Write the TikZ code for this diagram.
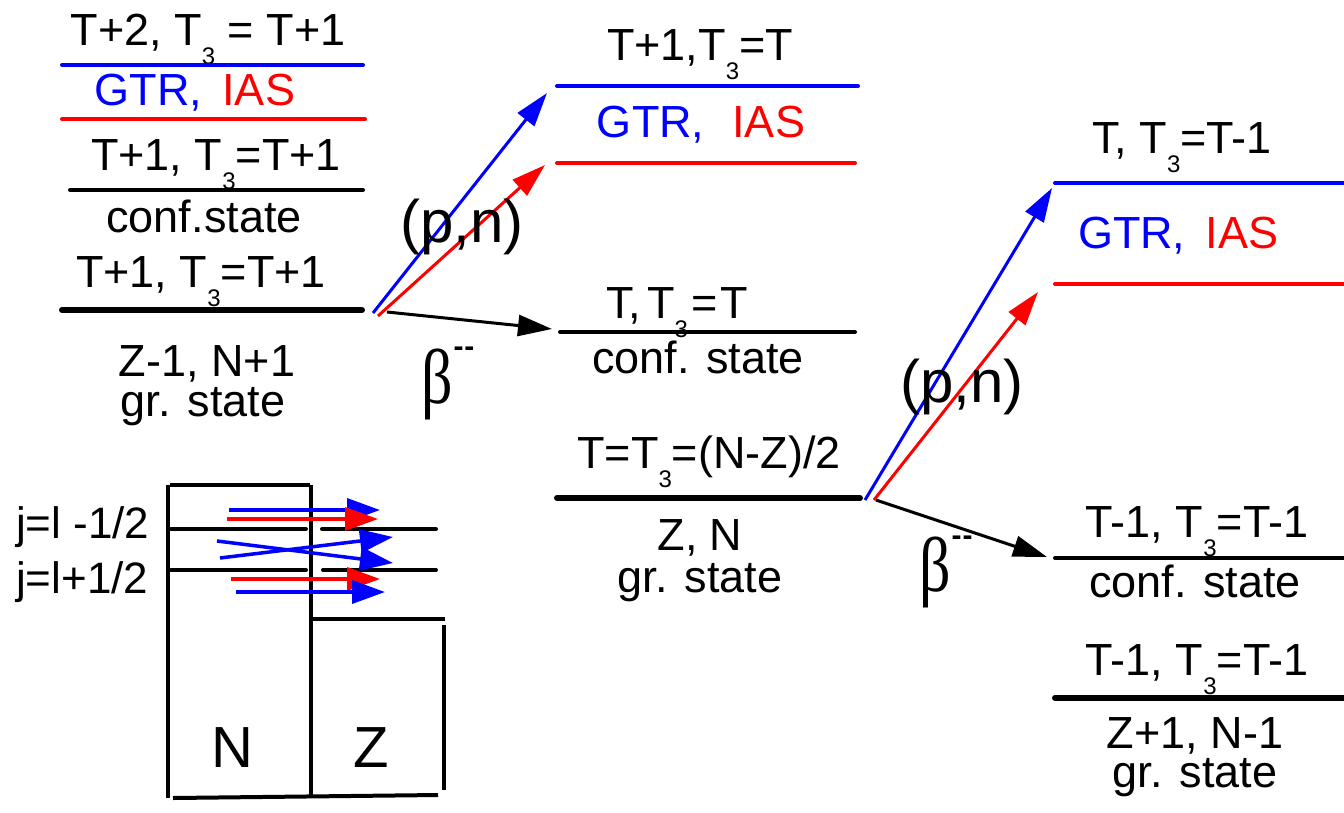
\documentclass[tikz,border=0pt]{standalone}
\usepackage{fontspec}
\setmainfont{Liberation Sans}
\newfontfamily\grkfont{Liberation Serif}
\usetikzlibrary{arrows.meta}
\newcommand\tsub[1]{\raisebox{-19pt}{\fontsize{24}{24}\selectfont #1}}
\begin{document}
\begin{tikzpicture}[x=1pt,y=-1pt,
  lbl/.style={anchor=base,inner sep=0pt,font=\fontsize{45}{54}\selectfont},
  jlbl/.style={anchor=base west,inner sep=0pt,font=\fontsize{44}{52}\selectfont},
  big/.style={anchor=base,inner sep=0pt,font=\fontsize{60}{70}\selectfont},
  nz/.style={anchor=base,inner sep=0pt,font=\fontsize{58}{68}\selectfont},
  beta/.style={inner sep=0pt,yscale=1.25,font=\grkfont\fontsize{62}{70}\selectfont},
  bsup/.style={inner sep=0pt,font=\bfseries\fontsize{30}{30}\selectfont},
  lvl/.style={line width=4pt,line cap=round},
  lvlthick/.style={line width=6pt,line cap=round},
  arr/.style={line width=3pt,-{Triangle[length=34pt,width=21pt]}},
  sarr/.style={line width=3.5pt,-{Triangle[length=33pt,width=23pt]}},
  boxline/.style={line width=4pt}
]
\useasboundingbox (0,0) rectangle (1344,812);

% ---------- left column ----------
\node[lbl] (l1) at (208,45) {T+2, T\tsub{3} = T+1};
\draw[lvl,blue] (62,65) -- (363,65);
\node[lbl] (l2) at (195,105) {{\color{blue}GTR,}\hspace{20pt}{\color{red}IAS}};
\draw[lvl,red] (62,119) -- (365,119);
\node[lbl] (l3) at (216,170) {T+1, T\tsub{3}=T+1};
\draw[lvl] (70,190) -- (363,190);
\node[lbl] (l4) at (204,232) {conf.state};
\node[lbl] (l5) at (201,287) {T+1, T\tsub{3}=T+1};
\draw[lvlthick] (62,310) -- (362,310);
\node[lbl] (l6) at (207,376) {Z-1, N+1};
\node[lbl] (l7) at (203,416) {gr. state};

% ---------- middle column ----------
\node[lbl] (m1) at (700,60) {T+1,T\tsub{3}=T};
\draw[lvl,blue] (557,86) -- (858,86);
\node[lbl] (m2) at (701,137) {{\color{blue}GTR,}\hspace{28pt}{\color{red}IAS}};
\draw[lvl,red] (557,163) -- (855,163);
\node[lbl] (m3) at (677,318) {T,\kern6pt T\tsub{3}\kern3pt=\kern3pt T};
\draw[lvl] (560,332) -- (855,332);
\node[lbl] (m4) at (698,373) {conf. state};
\node[lbl] (m5) at (709,468) {T=T\tsub{3}=(N-Z)/2};
\draw[lvlthick] (557,498) -- (860,498);
\node[lbl] (m6) at (700,550) {Z, N};
\node[lbl] (m7) at (700,592) {gr. state};

% ---------- right column ----------
\node[lbl] (r1) at (1182,153) {T, T\tsub{3}=T-1};
\draw[lvl,blue] (1055,183) -- (1352,183);
\node[lbl] (r2) at (1178,248) {{\color{blue}GTR,}\hspace{20pt}{\color{red}IAS}};
\draw[lvl,red] (1055,284) -- (1352,284);
\node[lbl] (r3) at (1197,537) {T-1, T\tsub{3}=T-1};
\draw[lvl] (1055,558) -- (1352,558);
\node[lbl] (r4) at (1195,597) {conf. state};
\node[lbl] (r5) at (1197,675) {T-1, T\tsub{3}=T-1};
\draw[lvlthick] (1055,698) -- (1352,698);
\node[lbl] (r6) at (1195,748) {Z+1, N-1};
\node[lbl] (r7) at (1195,787) {gr. state};

% ---------- transitions, group 1 ----------
\coordinate (g1b) at (373,313);
\coordinate (g1r) at (378,316);
\coordinate (g1k) at (387,312);
\coordinate (t1b) at (547,93);
\coordinate (t1r) at (545,165);
\coordinate (t1k) at (552,329);
\draw[arr,blue] (g1b) -- (t1b);
\draw[arr,red] (g1r) -- (t1r);
\draw[arr] (g1k) -- (t1k);
\node[big] (pn1) at (462,242) {(p,n)};
\node[beta] (b1) at (437,384) {β};
\node[bsup] (b1s) at (464,352) {-\kern1pt-};

% ---------- transitions, group 2 ----------
\coordinate (g2b) at (865,500);
\coordinate (g2r) at (874,500);
\coordinate (g2k) at (876,500);
\coordinate (t2b) at (1052,188);
\coordinate (t2r) at (1038,292);
\coordinate (t2k) at (1047,557);
\draw[arr,blue] (g2b) -- (t2b);
\draw[arr,red] (g2r) -- (t2r);
\draw[arr] (g2k) -- (t2k);
\node[big] (pn2) at (962,402) {(p,n)};
\node[beta] (b2) at (935,572) {β};
\node[bsup] (b2s) at (962,541) {-\kern1pt-};

% ---------- N / Z box ----------
\draw[boxline] (170,485) -- (310,485);
\draw[boxline] (168,485) -- (168,798);
\draw[boxline] (311,485) -- (311,795);
\draw[boxline] (173,798) -- (438,795);
\draw[boxline] (311,619) -- (445,619);
\draw[boxline] (444,625) -- (444,790);
\draw[lvl] (171,529) -- (306,529);
\draw[lvl] (322,529) -- (436,529);
\draw[lvl] (171,570) -- (306,570);
\draw[lvl] (323,570) -- (436,570);
\node[jlbl] (j1) at (16,538) {j=l -1/2};
\node[jlbl] (j2) at (16,593) {j=l+1/2};
\node[nz] (nN) at (232,767) {N};
\node[nz] (nZ) at (371,767) {Z};
\coordinate (s1a) at (229,510); \coordinate (s1b) at (380,510);
\coordinate (s2a) at (227,519); \coordinate (s2b) at (378,519);
\coordinate (s3a) at (217,541); \coordinate (s3b) at (393,563);
\coordinate (s4a) at (220,558); \coordinate (s4b) at (393,537);
\coordinate (s5a) at (231,579); \coordinate (s5b) at (380,579);
\coordinate (s6a) at (236,592); \coordinate (s6b) at (385,592);
\draw[sarr,blue] (s1a) -- (s1b);
\draw[sarr,red] (s2a) -- (s2b);
\draw[sarr,blue] (s3a) -- (s3b);
\draw[sarr,blue] (s4a) -- (s4b);
\draw[sarr,red] (s5a) -- (s5b);
\draw[sarr,blue] (s6a) -- (s6b);
\end{tikzpicture}
\end{document}
